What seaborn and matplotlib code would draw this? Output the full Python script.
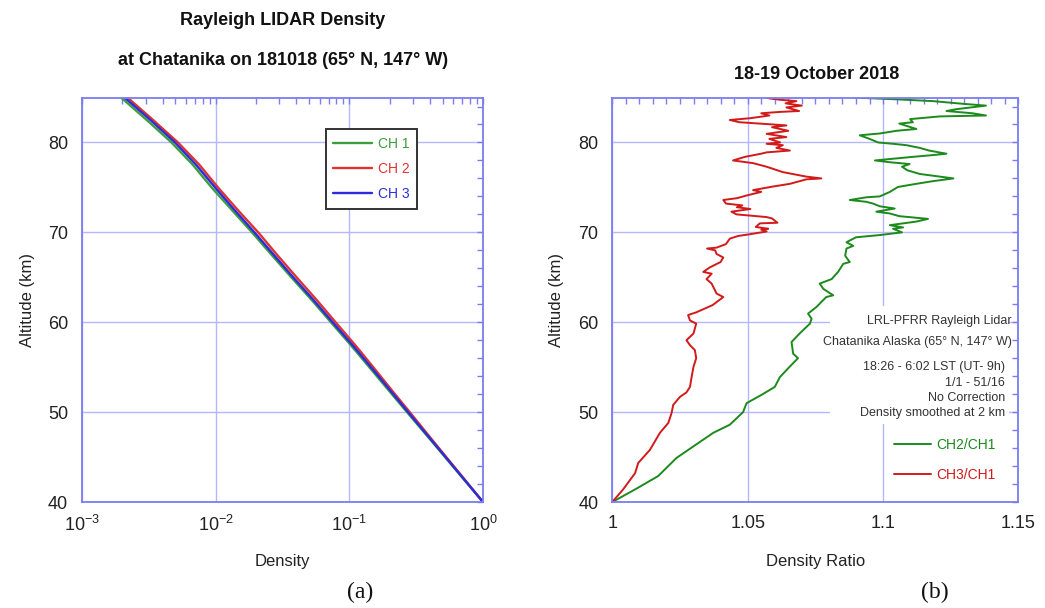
import matplotlib
matplotlib.use("Agg")
import matplotlib.pyplot as plt
import seaborn as sns
import pandas as pd
from matplotlib import font_manager
from matplotlib.ticker import MultipleLocator, LogLocator, FixedLocator, NullFormatter, FixedFormatter
from matplotlib.patches import Rectangle

# ---- Panel (a): normalized Rayleigh lidar density profiles ----
density_alt = [40, 42.5, 45, 47.5, 50, 52.5, 55, 57.5, 60, 62.5,
               65, 67.5, 70, 72.5, 75, 77.5, 80, 82.5, 85]
ch1_density = [1.0, 0.721, 0.520, 0.375, 0.270, 0.195, 0.141, 0.102, 0.0728, 0.0521,
               0.0368, 0.0262, 0.0187, 0.0132, 0.00931, 0.00676, 0.00467, 0.00305, 0.00196]
ch2_density = [1.0, 0.730, 0.531, 0.387, 0.283, 0.206, 0.151, 0.110, 0.0789, 0.0568,
               0.0403, 0.0288, 0.0208, 0.0146, 0.0104, 0.00757, 0.00522, 0.00340, 0.00219]
ch3_density = [1.0, 0.724, 0.525, 0.380, 0.275, 0.200, 0.145, 0.105, 0.0750, 0.0537,
               0.0380, 0.0272, 0.0195, 0.0138, 0.00989, 0.00715, 0.00496, 0.00325, 0.00208]
channel_names = ["CH 1", "CH 2", "CH 3"]

# ---- Panel (b): channel density ratios ----
ratio21_alt = [40.0, 41.5, 42.9, 44.9, 46.2, 47.7, 48.6, 50.0, 51.0, 51.9,
               52.8, 53.9, 55.05, 56.0, 56.5, 57.8, 58.75, 59.85, 60.4, 60.96,
               61.7, 62.8, 63.0, 63.7, 64.3, 64.8, 65.6, 66.5, 66.7, 67.4,
               68.2, 68.5, 68.9, 69.45, 69.7, 70.0, 70.4, 70.55, 70.8, 71.2,
               71.5, 71.66, 71.8, 72.1, 72.3, 72.65, 72.9, 73.2, 73.4, 73.6,
               73.9, 74.0, 74.5, 75.05, 75.4, 75.7, 76.0, 76.2, 76.5, 76.9,
               77.3, 77.6, 77.8, 78.0, 78.2, 78.4, 78.6, 78.75, 79.1, 79.4,
               79.7, 79.85, 80.0, 80.4, 80.8, 81.0, 81.3, 81.5, 82.1, 82.25,
               82.6, 82.9, 83.0, 83.25, 83.5, 83.7, 84.1, 84.3, 84.6, 84.8, 85.0]
ratio21 = [1.000, 1.009, 1.017, 1.0237, 1.030, 1.0373, 1.0434, 1.0483, 1.0496, 1.055,
           1.060, 1.0619, 1.0655, 1.0686, 1.0668, 1.0662, 1.0692, 1.073, 1.0736, 1.0723,
           1.0754, 1.079, 1.0816, 1.078, 1.0766, 1.081, 1.0834, 1.0853, 1.0877, 1.086,
           1.0865, 1.089, 1.0865, 1.090, 1.0988, 1.107, 1.1037, 1.1074, 1.1025, 1.1123,
           1.1166, 1.111, 1.106, 1.1025, 1.0975, 1.1043, 1.0988, 1.0963, 1.0938, 1.0877,
           1.0938, 1.0988, 1.1025, 1.1055, 1.1123, 1.1185, 1.126, 1.121, 1.1135, 1.109,
           1.107, 1.1098, 1.1025, 1.097, 1.104, 1.111, 1.1185, 1.1234, 1.117, 1.1135,
           1.1086, 1.1037, 1.0982, 1.095, 1.0914, 1.0988, 1.105, 1.1123, 1.106, 1.111,
           1.110, 1.121, 1.138, 1.133, 1.1234, 1.127, 1.138, 1.1295, 1.1185, 1.105, 1.089]

ratio31_alt = [40.0, 41.4, 43.2, 44.35, 45.8, 47.7, 48.8, 49.9, 50.8, 51.7,
               52.2, 52.8, 53.9, 55.05, 56.0, 56.9, 57.45, 58.0, 58.75, 59.85,
               60.2, 60.8, 61.1, 61.9, 62.8, 63.2, 64.3, 64.8, 65.4, 65.6,
               66.1, 66.7, 67.2, 67.6, 68.0, 68.2, 68.3, 68.7, 69.3, 69.6,
               69.8, 70.1, 70.3, 70.4, 70.6, 71.0, 71.07, 71.55, 71.7, 72.0,
               72.3, 72.6, 72.8, 73.0, 73.2, 73.6, 73.8, 74.1, 74.5, 74.7,
               75.1, 75.4, 75.9, 76.0, 76.2, 76.7, 77.3, 77.7, 78.0, 78.4,
               78.75, 78.9, 79.1, 79.4, 79.7, 79.85, 80.0, 80.4, 80.6, 80.96,
               81.3, 81.7, 81.9, 82.1, 82.25, 82.5, 82.7, 83.0, 83.25, 83.4,
               83.5, 83.9, 84.1, 84.35, 84.6, 84.75, 84.9, 85.0]
ratio31 = [1.000, 1.004, 1.0084, 1.0096, 1.0139, 1.0176, 1.0207, 1.0219, 1.0225, 1.025,
           1.0274, 1.0287, 1.0293, 1.030, 1.031, 1.0305, 1.0287, 1.0274, 1.030, 1.031,
           1.0287, 1.028, 1.031, 1.037, 1.041, 1.0385, 1.0367, 1.0348, 1.0367, 1.0336,
           1.036, 1.040, 1.041, 1.0385, 1.038, 1.035, 1.0385, 1.042, 1.0434, 1.0465,
           1.051, 1.057, 1.055, 1.0576, 1.053, 1.0545, 1.061, 1.059, 1.057, 1.0459,
           1.044, 1.051, 1.046, 1.048, 1.042, 1.041, 1.046, 1.0496, 1.055, 1.052,
           1.0594, 1.0656, 1.0717, 1.0772, 1.0717, 1.063, 1.057, 1.052, 1.0446, 1.049,
           1.055, 1.057, 1.0656, 1.0606, 1.063, 1.057, 1.062, 1.058, 1.0643, 1.057,
           1.065, 1.059, 1.0643, 1.0545, 1.047, 1.0434, 1.051, 1.058, 1.055, 1.062,
           1.069, 1.0643, 1.070, 1.064, 1.068, 1.062, 1.058, 1.057]
ratio_names = ["CH2/CH1", "CH3/CH1"]

# ---- Axis ticks ----
alt_ticks = [40, 50, 60, 70, 80]
density_ticks = [1e-3, 1e-2, 1e-1, 1e0]
ratio_ticks = [1.0, 1.05, 1.1, 1.15]
ratio_tick_labels = ["1", "1.05", "1.1", "1.15"]

sns.set_theme(style="white")
installed = {f.name for f in font_manager.fontManager.ttflist}
NARROW = "Liberation Sans Narrow" if "Liberation Sans Narrow" in installed else "Liberation Sans"
plt.rcParams["font.family"] = ["Liberation Sans", "DejaVu Sans"]

SPINE = "#7c7cf2"
GRID = "#b6b6fb"
TXT = "#222222"

fig = plt.figure(figsize=(10.45, 6.08), dpi=100)
ax_a = fig.add_axes([0.0785, 0.1743, 0.3837, 0.6653])
ax_b = fig.add_axes([0.5859, 0.1743, 0.3887, 0.6653])

# Panel (a) lines
density_df = pd.DataFrame({
    "alt": density_alt * 3,
    "density": ch1_density + ch2_density + ch3_density,
    "channel": [c for c in channel_names for _ in density_alt],
})
palette_a = {"CH 1": "#3b9f3b", "CH 2": "#e03232", "CH 3": "#2c2cdc"}
for ch in channel_names:
    sub = density_df[density_df["channel"] == ch]
    sns.lineplot(data=sub, x="density", y="alt", sort=False, estimator=None,
                 color=palette_a[ch], lw=1.7, label=ch, ax=ax_a)

# Panel (b) lines
sns.lineplot(x=ratio21, y=ratio21_alt, sort=False, estimator=None,
             color="#1c8a1c", lw=1.4, label=ratio_names[0], ax=ax_b)
sns.lineplot(x=ratio31, y=ratio31_alt, sort=False, estimator=None,
             color="#d21a1a", lw=1.4, label=ratio_names[1], ax=ax_b)

# Axes styling
ax_a.set_xscale("log")
ax_a.set_xlim(1e-3, 1)
ax_b.set_xlim(1.0, 1.15)
for ax in (ax_a, ax_b):
    ax.set_ylim(40, 85)
    ax.set_axisbelow(True)
    ax.yaxis.set_major_locator(FixedLocator(alt_ticks))
    ax.yaxis.set_minor_locator(MultipleLocator(2))
    ax.grid(True, which="major", color=GRID, lw=1.0)
    for s in ax.spines.values():
        s.set_color(SPINE)
        s.set_linewidth(1.3)
    ax.tick_params(which="both", direction="in", top=True, right=True,
                   color=SPINE, width=1.0)
    ax.tick_params(which="major", length=4, labelsize=13, labelcolor=TXT)
    ax.tick_params(which="minor", length=4)
    ax.tick_params(axis="y", which="major", pad=10)
    ax.tick_params(axis="x", which="major", pad=9)
    ax.set_ylabel("Altitude (km)", fontsize=12, color=TXT)
    ax.yaxis.label.set_va("center")
    ax.yaxis.set_label_coords(-0.137, 0.5)
    ax.xaxis.label.set_va("center")

ax_a.xaxis.set_major_locator(FixedLocator(density_ticks))
ax_a.xaxis.set_minor_locator(LogLocator(base=10, subs=range(2, 10), numticks=20))
ax_a.xaxis.set_minor_formatter(NullFormatter())
ax_b.xaxis.set_major_locator(FixedLocator(ratio_ticks))
ax_b.xaxis.set_major_formatter(FixedFormatter(ratio_tick_labels))
ax_b.xaxis.set_minor_locator(MultipleLocator(0.005))
for ax in (ax_a, ax_b):
    for lab in ax.get_xticklabels() + ax.get_yticklabels():
        lab.set_family([NARROW, "DejaVu Sans"])

ax_a.set_xlabel("Density", fontsize=12, color=TXT)
ax_a.xaxis.set_label_coords(0.5, -0.148)
ax_b.set_xlabel("Density Ratio", fontsize=12, color=TXT)
ax_b.xaxis.set_label_coords(0.5, -0.148)

# Legends
leg_a = ax_a.legend(loc="upper left", bbox_to_anchor=(0.608, 0.922), borderaxespad=0,
                    fontsize=10, handlelength=2.8, handletextpad=0.4, labelspacing=0.8,
                    borderpad=0.55, fancybox=False, frameon=True, labelcolor="linecolor")
leg_a.get_frame().set_edgecolor("#333333")
leg_a.get_frame().set_linewidth(1.4)
leg_a.get_frame().set_alpha(1)

leg_b = ax_b.legend(loc="upper left", bbox_to_anchor=(0.693, 0.158), borderaxespad=0,
                    fontsize=10, handlelength=2.7, handletextpad=0.35, labelspacing=1.15,
                    borderpad=0, frameon=False, labelcolor="linecolor")

# Info block in panel (b)
ax_b.add_patch(Rectangle((0.536, 0.193), 0.441, 0.292, transform=ax_b.transAxes,
                         facecolor="white", edgecolor="none", zorder=1))
info = [
    ("LRL-PFRR Rayleigh Lidar", 0.984, 0.4475),
    ("Chatanika Alaska (65° N, 147° W)", 0.984, 0.3955),
    ("18:26 - 6:02 LST (UT- 9h)", 0.967, 0.3337),
    ("1/1 - 51/16", 0.967, 0.294),
    ("No Correction", 0.967, 0.257),
    ("Density smoothed at 2 km", 0.967, 0.22),
]
for txt, x, y in info:
    ax_b.text(x, y, txt, transform=ax_b.transAxes, ha="right", va="center",
              fontsize=9, color="#333333", zorder=3)

# Titles
fig.text(0.2706, 0.967, "Rayleigh LIDAR Density", ha="center", va="center",
         fontsize=13, fontweight="bold", color="#111111")
fig.text(0.2706, 0.901, "at Chatanika on 181018 (65° N, 147° W)", ha="center",
         va="center", fontsize=13, fontweight="bold", color="#111111")
fig.text(0.781, 0.877, "18-19 October 2018", ha="center", va="center",
         fontsize=13, fontweight="bold", color="#111111")

# Panel tags
fig.text(0.3445, 0.026, "(a)", ha="center", va="center", fontsize=17,
         family=["Liberation Serif", "DejaVu Serif"], color="#111111")
fig.text(0.8947, 0.026, "(b)", ha="center", va="center", fontsize=17,
         family=["Liberation Serif", "DejaVu Serif"], color="#111111")

fig.savefig("out.png", dpi=100, facecolor="white")
